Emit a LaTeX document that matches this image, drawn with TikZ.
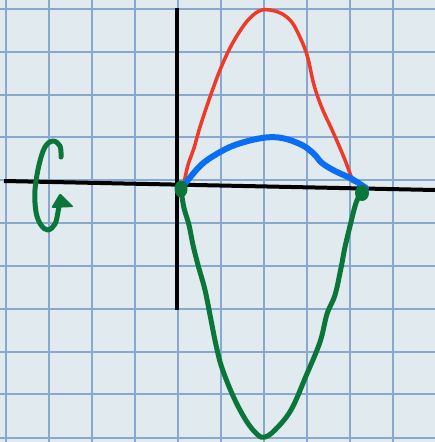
\documentclass[tikz,border=0pt]{standalone}
\begin{document}
\begin{tikzpicture}[x=1pt,y=-1pt,
  gridline/.style={draw=gridblue,line width=1.1pt},
  axis/.style={draw=black,line width=4pt},
  redcurve/.style={draw=penred,line width=3.5pt,line cap=round,line join=round},
  bluecurve/.style={draw=penblue,line width=6pt,line cap=round,line join=round},
  greencurve/.style={draw=pengreen,line width=5pt,line cap=round,line join=round},
  greendot/.style={fill=pengreen}]
\definecolor{paper}{RGB}{224,234,239}
\definecolor{gridblue}{RGB}{136,168,206}
\definecolor{penred}{RGB}{238,58,40}
\definecolor{penblue}{RGB}{10,110,245}
\definecolor{pengreen}{RGB}{10,118,58}
\useasboundingbox (0,0) rectangle (435,442);
\fill[paper] (0,0) rectangle (435,442);
% grid
\foreach \gx in {6,49,92,135,178,221,264,307,350,393} {\draw[gridline] (\gx,0) -- (\gx,442);}
\foreach \gy in {9,52,95,137,180,223,266,309,352,394,438} {\draw[gridline] (0,\gy) -- (435,\gy);}
% axes
\draw[axis] (177,8) -- (177,310);
\draw[axis] (4,181) -- (435,190);
% red curve
\draw[redcurve] plot[smooth,tension=0.6] coordinates {(184,183) (188,165) (194,148) (200,127) (210,97) (220,70) (230,48) (240,31) (250,18) (262,10) (278,12) (290,20) (298,33) (307,55) (314,85) (322,108) (333,132) (345,160) (353,182)};
% blue curve
\draw[bluecurve] plot[smooth,tension=0.6] coordinates {(184,185) (200,166) (215,155) (235,145) (262,138) (282,138) (302,145) (314,154) (322,163) (335,171) (352,179) (366,188)};
% green curve
\draw[greencurve] plot[smooth,tension=0.6] coordinates {(181,190) (184,208) (189,225) (193,245) (198,265) (205,290) (211,320) (216,345) (222,368) (234,398) (247,422) (258,435) (265,437) (275,430) (291,410) (306,376) (320,342) (327,314) (335,295) (341,268) (345,247) (351,222) (356,203) (361,192)};
\fill[greendot] (181,189) ellipse (6.5 and 8.5);
\fill[greendot] (362,193) ellipse (7 and 8);
% rotation arrow
\draw[greencurve] plot[smooth,tension=0.6] coordinates {(61,157) (60,146) (53,141) (45,147) (39,165) (35,190) (36,212) (41,225) (48,230) (55,224) (58,212) (60,200)};
\fill[pengreen,rounded corners=2pt] (60,193) -- (74,207) -- (51,208) -- cycle;
\end{tikzpicture}
\end{document}
